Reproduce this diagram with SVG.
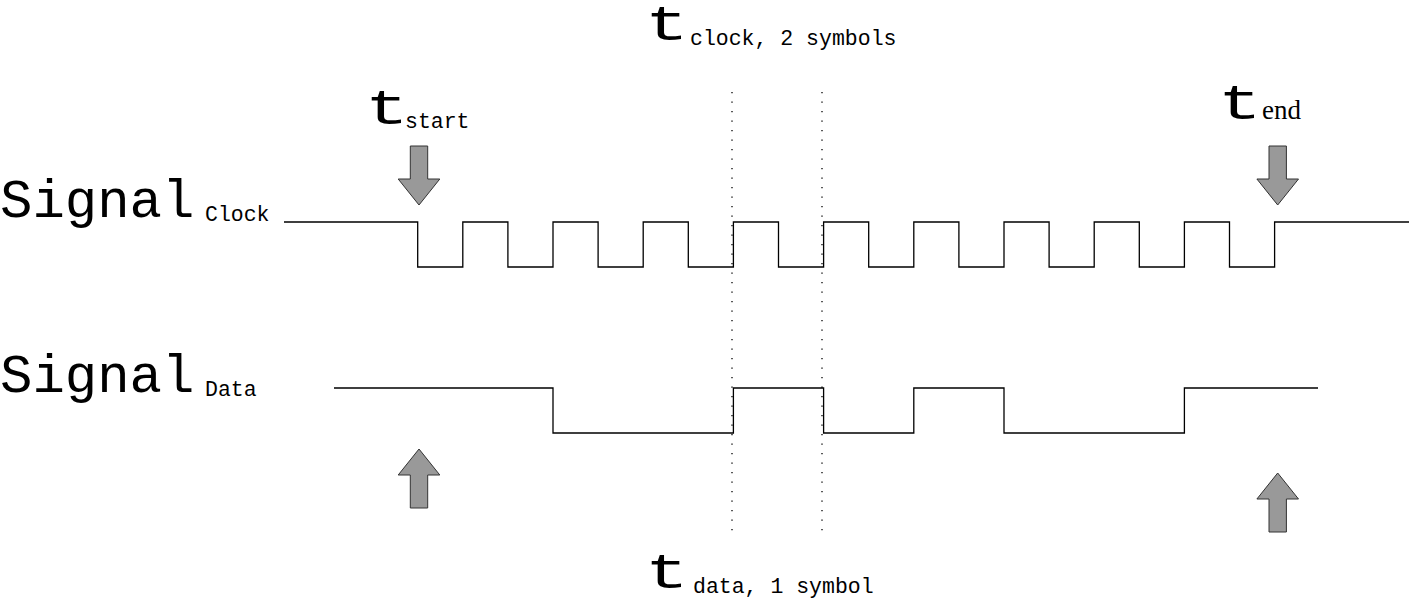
<svg xmlns="http://www.w3.org/2000/svg" width="1411" height="610" viewBox="0 0 1411 610">
<style>
.sig{fill:none;stroke:#000;stroke-width:1.3}
.dot{fill:none;stroke:#000;stroke-width:1.3;stroke-dasharray:1.3 8.2}
.arr{fill:#999;stroke:#333;stroke-width:1}
.big{font-family:"Liberation Mono",monospace;font-size:54px;fill:#000}
.tt{font-family:"Liberation Mono",monospace;font-size:50px;fill:#000}
.sub{font-family:"Liberation Mono",monospace;font-size:21.5px;fill:#000}
.rm{font-family:"Liberation Serif",serif;font-size:27px;fill:#000}
</style>
<rect width="1411" height="610" fill="#fff"/>
<g id="guides">
<line class="dot" x1="732" y1="92" x2="732" y2="538"/>
<line class="dot" x1="822" y1="92" x2="822" y2="538"/>
</g>
<g id="connectors">
<path id="clock" class="sig" d="M284,222 H417.7 V267 H462.8 V222 H507.9 V267 H553 V222 H598.1 V267 H643.2 V222 H688.3 V267 H733.4 V222 H778.5 V267 H823.6 V222 H868.7 V267 H913.8 V222 H958.9 V267 H1004 V222 H1049.1 V267 H1094.2 V222 H1139.3 V267 H1184.4 V222 H1229.5 V267 H1274.6 V222 H1409"/>
<path id="data" class="sig" d="M334,388 H553 V433 H733.4 V388 H823.6 V433 H913.8 V388 H1004 V433 H1184.4 V388 H1318"/>
</g>
<g id="arrow-start-down"><path class="arr" d="M410.3,146 H427.7 V179 H439.8 L419,205 L398.2,179 H410.3 Z"/></g>
<g id="arrow-end-down"><path class="arr" d="M1269,146 H1286.4 V179 H1298.5 L1277.7,205 L1256.9,179 H1269 Z"/></g>
<g id="arrow-start-up"><path class="arr" d="M410.3,508 H427.7 V475 H439.8 L419,449 L398.2,475 H410.3 Z"/></g>
<g id="arrow-end-up"><path class="arr" d="M1269,532 H1286.4 V499 H1298.5 L1277.7,473 L1256.9,499 H1269 Z"/></g>
<g id="label-clock"><text class="big" x="0" y="217">Signal</text><text class="sub" x="205" y="221">Clock</text></g>
<g id="label-data"><text class="big" x="0" y="392">Signal</text><text class="sub" x="205" y="396">Data</text></g>
<g id="label-tstart"><text class="tt" transform="translate(365,124) scale(1.45,1)">t</text><text class="sub" x="405" y="128">start</text></g>
<g id="label-tclock"><text class="tt" transform="translate(645,40) scale(1.45,1)">t</text><text class="sub" x="690" y="45">clock, 2 symbols</text></g>
<g id="label-tend"><text class="tt" transform="translate(1218,119) scale(1.45,1)">t</text><text class="rm" x="1262" y="119">end</text></g>
<g id="label-tdata"><text class="tt" transform="translate(645,588) scale(1.45,1)">t</text><text class="sub" x="693" y="593">data, 1 symbol</text></g>
</svg>
